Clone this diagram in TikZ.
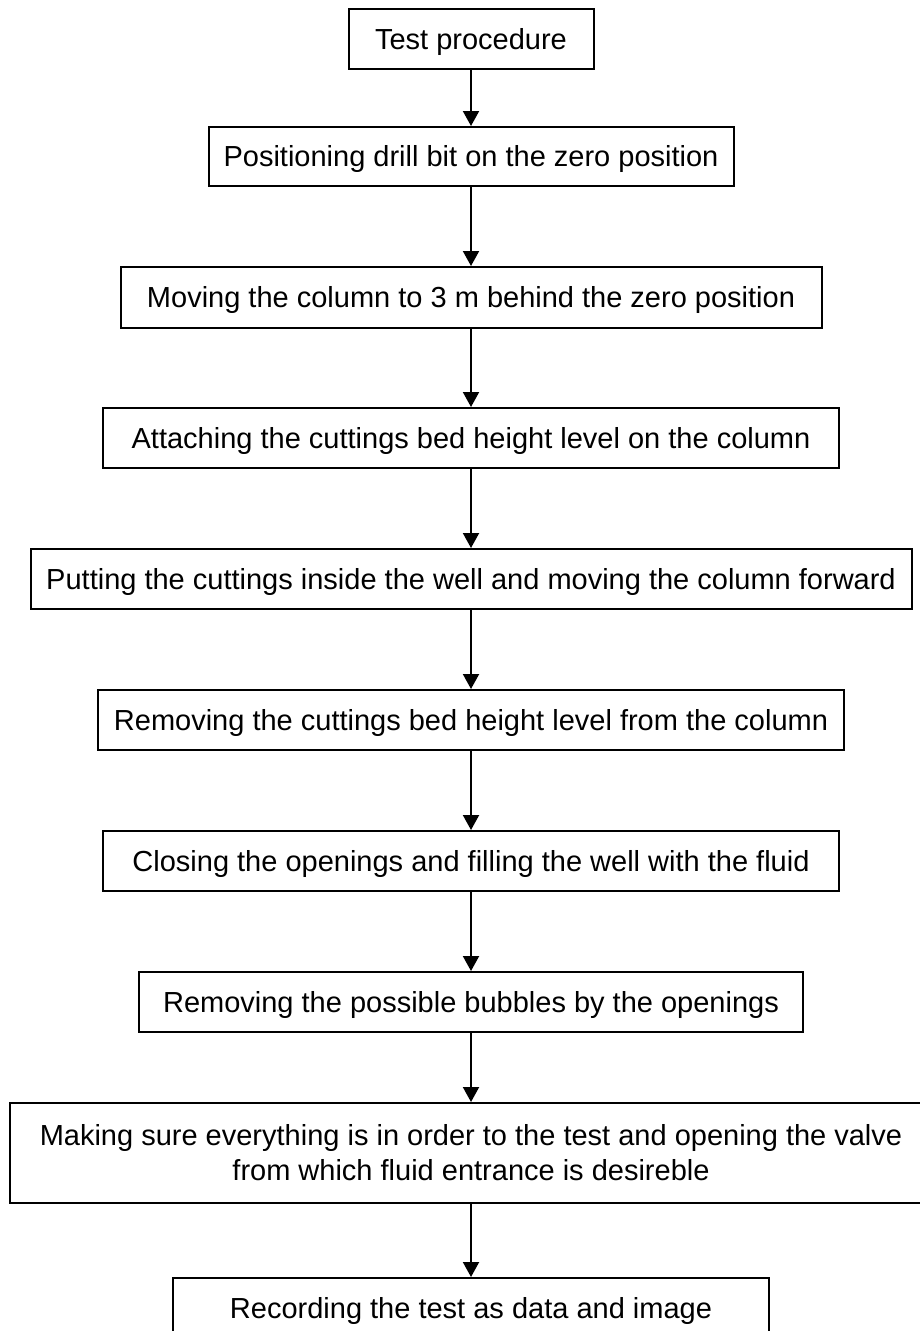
\documentclass[tikz,border=0pt]{standalone}
\usepackage{fontspec}
\setmainfont{Liberation Sans}
\usetikzlibrary{arrows.meta}
\begin{document}
\begin{tikzpicture}[x=1pt,y=-1pt,
  stepbox/.style={draw=black, line width=2pt, rectangle, inner sep=0pt, align=center,
    text height=22pt, text depth=2pt,
    font=\fontsize{29pt}{35pt}\selectfont},
  twoline/.style={text height=, text depth=},
  arr/.style={line width=2pt, -{Triangle[width=16pt,length=15pt]}}]
\useasboundingbox (0,0) rectangle (920,1331);
\fill[white] (0,0) rectangle (920,1331);
\node[stepbox, minimum width=245, minimum height=60] (b1) at (471,39) {Test procedure};
\node[stepbox, minimum width=525, minimum height=59] (b2) at (471,156.5) {Positioning drill bit on the zero position};
\node[stepbox, minimum width=701, minimum height=61] (b3) at (471,297.5) {Moving the column to 3 m behind the zero position};
\node[stepbox, minimum width=736, minimum height=60] (b4) at (471,438) {Attaching the cuttings bed height level on the column};
\node[stepbox, minimum width=881, minimum height=60] (b5) at (471,579) {Putting the cuttings inside the well and moving the column forward};
\node[stepbox, minimum width=746, minimum height=60] (b6) at (471,720) {Removing the cuttings bed height level from the column};
\node[stepbox, minimum width=736, minimum height=60] (b7) at (471,861) {Closing the openings and filling the well with the fluid};
\node[stepbox, minimum width=664, minimum height=60] (b8) at (471,1002) {Removing the possible bubbles by the openings};
\node[stepbox, twoline, minimum width=922, minimum height=100] (b9) at (471,1153) {Making sure everything is in order to the test and opening the valve\\from which fluid entrance is desireble};
\node[stepbox, minimum width=596, minimum height=60] (b10) at (471,1308) {Recording the test as data and image};
\draw[arr] (b1.south) -- (b2.north);
\draw[arr] (b2.south) -- (b3.north);
\draw[arr] (b3.south) -- (b4.north);
\draw[arr] (b4.south) -- (b5.north);
\draw[arr] (b5.south) -- (b6.north);
\draw[arr] (b6.south) -- (b7.north);
\draw[arr] (b7.south) -- (b8.north);
\draw[arr] (b8.south) -- (b9.north);
\draw[arr] (b9.south) -- (b10.north);
\end{tikzpicture}
\end{document}
